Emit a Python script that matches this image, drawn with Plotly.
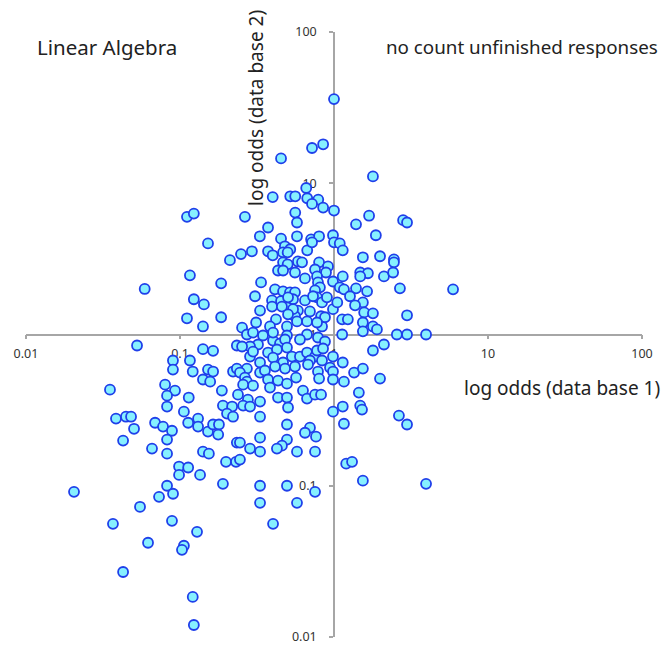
import plotly.graph_objects as go

# Log odds: x = data base 1, y = data base 2
x_upper_left_outer = [0.111, 0.123, 0.152, 0.211, 0.249, 0.116, 0.059, 0.185, 0.123, 0.143, 0.111, 0.141, 0.185, 0.253, 0.264]
y_upper_left_outer = [6.0, 6.3, 4.0, 3.1, 3.4, 2.46, 2.0, 2.18, 1.71, 1.58, 1.28, 1.13, 1.30, 1.11, 6.0]

x_upper_center = [1.0, 0.72, 0.85, 0.453, 0.66, 0.40, 0.52, 0.56, 0.67, 0.79, 0.72, 0.85, 1.0, 0.56, 0.575,
                  0.373, 0.33, 0.453, 0.575, 0.71, 0.80, 0.985, 1.0, 0.293, 0.373, 0.40, 0.48, 0.52, 0.467, 0.50,
                  0.67, 0.72, 0.467, 0.50, 0.583, 0.62, 0.80, 0.914, 0.433, 0.467, 0.558, 0.753, 0.887, 0.648, 0.776,
                  0.336, 0.985, 0.787, 0.81, 0.414, 0.467, 0.518, 0.558, 0.753, 0.307, 0.776, 0.396, 0.453, 0.542, 0.648,
                  0.836, 0.331, 0.396, 0.495, 0.583, 0.698, 0.985, 0.42, 0.558, 0.668, 0.824, 0.312, 0.384, 0.495, 0.836,
                  0.272, 0.346, 0.495, 0.668, 0.503, 0.731, 0.90, 0.459, 0.542, 0.503, 0.575, 0.874, 0.776]
y_upper_center = [36, 17.1, 18.1, 14.6, 9.3, 8.1, 8.2, 8.2, 7.96, 7.8, 7.3, 6.9, 6.6, 6.4, 5.5,
                  5.1, 4.46, 4.3, 4.46, 4.26, 4.46, 4.53, 4.07, 3.55, 3.55, 3.34, 3.83, 3.66, 3.49, 3.49,
                  3.6, 4.07, 3.0, 2.91, 3.04, 3.0, 3.0, 2.82, 2.65, 2.65, 2.57, 2.69, 2.57, 2.35, 2.42,
                  2.21, 2.24, 2.21, 2.05, 1.99, 1.93, 1.9, 1.9, 1.96, 1.79, 1.76, 1.68, 1.66, 1.71, 1.68,
                  1.63, 1.44, 1.53, 1.51, 1.44, 1.42, 1.47, 1.26, 1.32, 1.22, 1.32, 1.2, 1.13, 1.13, 1.13,
                  1.0, 0.985, 0.985, 1.0, 1.76, 1.79, 1.76, 1.53, 1.47, 1.36, 1.22, 1.30, 1.2]

x_upper_right = [1.79, 1.69, 1.39, 2.81, 2.98, 1.87, 1.09, 1.14, 1.54, 1.99, 2.45, 2.45, 1.48, 1.66, 1.48,
                 2.11, 2.42, 1.14, 1.09, 1.16, 1.39, 1.64, 2.68, 5.93, 1.27, 1.05, 1.54, 1.37, 1.57, 1.79,
                 2.98, 1.13, 1.23, 1.54, 1.79, 1.90, 1.54, 1.13, 2.56, 2.98, 3.96]
y_upper_right = [11.1, 6.1, 5.35, 5.7, 5.5, 4.53, 4.0, 3.6, 3.24, 3.29, 3.14, 3.0, 2.57, 2.54, 2.42,
                 2.42, 2.57, 2.42, 2.05, 1.99, 2.02, 1.93, 2.02, 1.99, 1.79, 1.63, 1.63, 1.56, 1.40, 1.38,
                 1.34, 1.26, 1.26, 1.20, 1.13, 1.08, 1.05, 1.0, 1.0, 1.0, 1.0]

x_lower_left = [0.0526, 0.141, 0.164, 0.234, 0.090, 0.116, 0.090, 0.121, 0.152, 0.164, 0.221, 0.234, 0.141, 0.157,
                0.0351, 0.080, 0.0928, 0.0824, 0.187, 0.238, 0.0824, 0.114, 0.106, 0.19, 0.218, 0.202, 0.221,
                0.0384, 0.0446, 0.0481, 0.0503, 0.0689, 0.0776, 0.0887, 0.0824, 0.113, 0.131, 0.131, 0.152, 0.164,
                0.179, 0.177, 0.234, 0.0427, 0.0658, 0.0824, 0.141, 0.154, 0.199, 0.231, 0.0986, 0.113, 0.0986,
                0.135, 0.19, 0.0205, 0.0824, 0.0901, 0.0731, 0.055, 0.0887, 0.0367, 0.129, 0.062, 0.106, 0.103,
                0.0427, 0.121, 0.123]
y_lower_left = [0.846, 0.80, 0.78, 0.846, 0.673, 0.673, 0.586, 0.569, 0.586, 0.569, 0.569, 0.595, 0.504, 0.488,
                0.432, 0.466, 0.426, 0.394, 0.426, 0.40, 0.334, 0.383, 0.309, 0.339, 0.334, 0.30, 0.286,
                0.278, 0.286, 0.286, 0.238, 0.261, 0.246, 0.231, 0.202, 0.261, 0.278, 0.246, 0.228, 0.254,
                0.254, 0.218, 0.193, 0.199, 0.176, 0.163, 0.168, 0.163, 0.144, 0.144, 0.134, 0.132, 0.118,
                0.118, 0.103, 0.0912, 0.100, 0.0885, 0.0845, 0.0726, 0.0586, 0.056, 0.0496, 0.042, 0.0401, 0.0377,
                0.0269, 0.0184, 0.012]

x_lower_center = [0.402, 0.446, 0.481, 0.601, 0.787, 0.874, 0.321, 0.285, 0.253, 0.285, 0.298, 0.373, 0.426, 0.495,
                  0.533, 0.601, 0.668, 0.753, 0.776, 0.849, 0.985, 0.331, 0.402, 0.467, 0.698, 0.836, 0.272, 0.245,
                  0.331, 0.356, 0.414, 0.481, 0.558, 0.678, 0.942, 0.787, 0.985, 0.264, 0.272, 0.298, 0.257, 0.373,
                  0.433, 0.495, 0.567, 0.384, 0.80, 0.985, 0.629, 0.433, 0.495, 0.668, 0.753, 0.824, 0.276, 0.331,
                  0.257, 0.285, 0.503, 0.331, 0.985, 0.495, 0.698, 0.648, 0.764, 0.495, 0.459, 0.426, 0.331, 0.285,
                  0.331, 0.245, 0.575, 0.753, 0.245, 0.331, 0.495, 0.753, 0.331, 0.575, 0.402, 0.298, 0.402]
y_lower_center = [0.912, 0.872, 0.927, 0.927, 0.955, 0.899, 0.859, 0.833, 0.833, 0.715, 0.771, 0.76, 0.796, 0.82,
                  0.715, 0.715, 0.76, 0.715, 0.784, 0.808, 0.715, 0.653, 0.704, 0.653, 0.673, 0.673, 0.595, 0.56,
                  0.56, 0.578, 0.614, 0.595, 0.614, 0.633, 0.604, 0.569, 0.569, 0.519, 0.488, 0.459, 0.466, 0.504,
                  0.496, 0.473, 0.519, 0.446, 0.511, 0.504, 0.426, 0.383, 0.383, 0.377, 0.40, 0.40, 0.371, 0.36,
                  0.339, 0.334, 0.329, 0.286, 0.309, 0.254, 0.242, 0.224, 0.211, 0.202, 0.184, 0.176, 0.208, 0.176,
                  0.168, 0.193, 0.168, 0.168, 0.149, 0.10, 0.10, 0.0912, 0.0771, 0.0771, 0.056, 1.03, 1.03]

x_lower_right = [1.79, 2.11, 1.14, 1.35, 1.54, 1.99, 1.16, 1.45, 1.14, 1.48, 1.52, 1.16, 2.64, 2.98, 1.20, 1.31, 1.54, 3.96]
y_lower_right = [0.784, 0.859, 0.653, 0.56, 0.595, 0.511, 0.488, 0.413, 0.334, 0.339, 0.319, 0.257, 0.291, 0.254,
                 0.140, 0.144, 0.108, 0.103]

tick_vals = [0.01, 0.1, 1, 10, 100]
tick_text = ["0.01", "0.1", "1", "10", "100"]

x_all = x_upper_left_outer + x_upper_center + x_upper_right + x_lower_left + x_lower_center + x_lower_right
y_all = y_upper_left_outer + y_upper_center + y_upper_right + y_lower_left + y_lower_center + y_lower_right

FONT = "Noto Sans"
AX_COLOR = "#a6a6a6"

fig = go.Figure()
fig.add_trace(go.Scatter(
    x=x_all, y=y_all, mode="markers",
    marker=dict(size=10, color="#86F0FF", line=dict(color="#1F3FEA", width=1.8)),
    hoverinfo="x+y", showlegend=False,
))

axis_common = dict(
    type="log", range=[-2, 2], showgrid=False, zeroline=False,
    showline=True, linecolor=AX_COLOR, linewidth=1.5,
    ticks="outside", ticklen=4, tickcolor=AX_COLOR, tickwidth=1.5,
    tickvals=tick_vals, ticktext=tick_text,
    tickfont=dict(family=FONT, size=12.5, color="#333333"),
    anchor="free", position=0.5, layer="below traces", automargin=False,
)
fig.update_xaxes(**axis_common, ticklabelstandoff=4)
fig.update_yaxes(**axis_common, ticklabelstandoff=10)

L, T, W, H = 26, 32, 616, 605


def px(xp):
    return (xp - L) / W


def py(yp):
    return (T + H - yp) / H


annotations = [
    dict(text="Linear Algebra", x=px(107), y=py(47), size=20.5, angle=0),
    dict(text="no count unfinished responses", x=px(522), y=py(47), size=18.8, angle=0),
    dict(text="log odds (data base 1)", x=px(562), y=py(388), size=19, angle=0),
    dict(text="log odds (data base 2)", x=px(256), y=py(108), size=19, angle=-90),
]
for a in annotations:
    fig.add_annotation(text=a["text"], x=a["x"], y=a["y"], xref="paper", yref="paper",
                       xanchor="center", yanchor="middle", showarrow=False, textangle=a["angle"],
                       font=dict(family=FONT, size=a["size"], color="#222222"))

fig.update_layout(
    width=665, height=646,
    margin=dict(l=L, r=665 - L - W, t=T, b=646 - T - H),
    paper_bgcolor="white", plot_bgcolor="white",
    font=dict(family=FONT),
)

fig.write_html("out.html", config={"displayModeBar": False},
               post_script="document.body.style.margin='0';document.body.style.overflow='hidden';")
